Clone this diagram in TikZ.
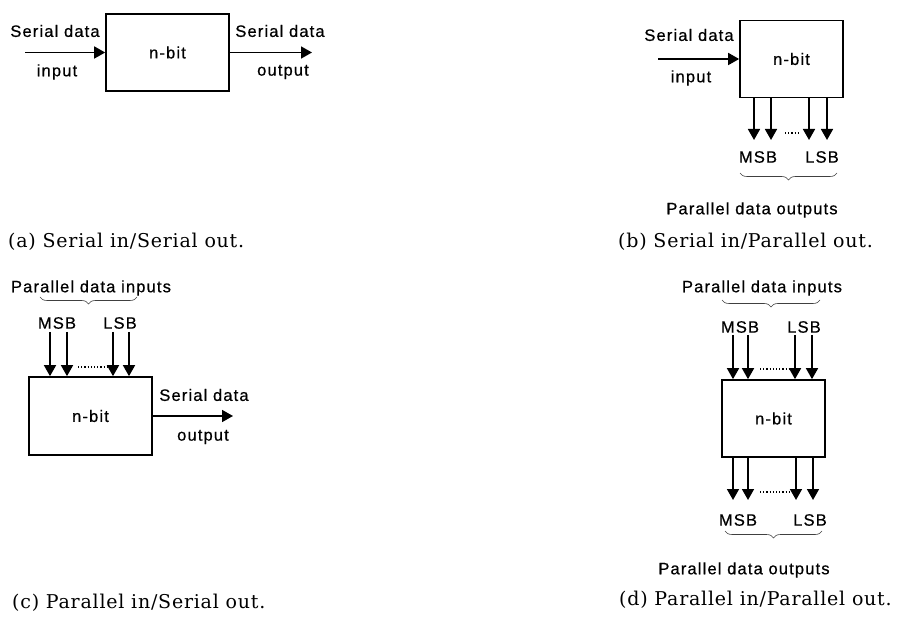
\documentclass[tikz,border=0pt]{standalone}
\usepackage{fontspec}
\setmainfont{DejaVu Serif}
\newfontfamily\labfont[LetterSpace=7,FakeBold=0.6]{Liberation Sans}
\newfontfamily\capfont[LetterSpace=4]{DejaVu Serif}
\usetikzlibrary{arrows.meta,decorations.pathreplacing}
\begin{document}
\begin{tikzpicture}[x=1pt,y=-1pt,
  lab/.style={font=\labfont\fontsize{16.5}{18}\selectfont, inner sep=0pt},
  box/.style={draw,line width=1.7pt,inner sep=0pt,font=\labfont\fontsize{16.5}{18}\selectfont},
  arr/.style={line width=1.7pt,-{Triangle[length=11pt,width=12pt]}},
  brc/.style={decorate,decoration={brace,amplitude=7pt},line width=0.6pt,draw=black!75},
  dotln/.style={dotted,line width=1.2pt},
  captxt/.style={font=\capfont\fontsize{19}{22}\selectfont,anchor=west,inner sep=0pt}
]
\useasboundingbox (0,0) rectangle (897,617);

% ---------- (a) ----------
\node[box,minimum width=123pt,minimum height=77pt] (A) at (167.5,52.5) {n-bit};
\coordinate (Ain) at (25,52.5);
\coordinate (Aout) at (312,52.5);
\draw[arr] (Ain) -- (A.west);
\draw[arr] (A.east) -- (Aout);
\node[lab] (Asd1) at (55,31) {Serial data};
\node[lab] (Ainp) at (57,72) {input};
\node[lab] (Asd2) at (280,31) {Serial data};
\node[lab] (Aoutp) at (283,72) {output};
\node[captxt] (Acap) at (8,242) {(a) Serial in/Serial out.};

% ---------- (b) ----------
\node[box,minimum width=103pt,minimum height=77pt] (B) at (791.5,59) {n-bit};
\coordinate (Bin) at (658,59);
\draw[arr] (Bin) -- (B.west);
\node[lab] (Bsd) at (689,35) {Serial data};
\node[lab] (Binp) at (691,78) {input};
\coordinate (b1) at (754,140);
\coordinate (b2) at (771,140);
\coordinate (b3) at (809,140);
\coordinate (b4) at (827,140);
\foreach \c in {b1,b2,b3,b4} \draw[arr] (B.south -| \c) -- (\c);
\coordinate (bd1) at (785,133);
\coordinate (bd2) at (798,133);
\draw[dotln] (bd1) -- (bd2);
\node[lab] (Bmsb) at (758,157) {MSB};
\node[lab] (Blsb) at (822,157) {LSB};
\coordinate (bbr1) at (837,173);
\coordinate (bbr2) at (740,173);
\draw[brc] (bbr1) -- (bbr2);
\node[lab] (Bpdo) at (752,210) {Parallel data outputs};
\node[captxt] (Bcap) at (618,242) {(b) Serial in/Parallel out.};

% ---------- (c) ----------
\node[box,minimum width=123pt,minimum height=78pt] (C) at (90.5,416) {n-bit};
\node[lab] (Cpdi) at (91,288) {Parallel data inputs};
\coordinate (cbr1) at (137,297);
\coordinate (cbr2) at (40,297);
\draw[brc] (cbr1) -- (cbr2);
\node[lab] (Cmsb) at (57,323) {MSB};
\node[lab] (Clsb) at (120,323) {LSB};
\coordinate (c1) at (50,332);
\coordinate (c2) at (67,332);
\coordinate (c3) at (113,332);
\coordinate (c4) at (129,332);
\foreach \c in {c1,c2,c3,c4} \draw[arr] (\c) -- (C.north -| \c);
\coordinate (cd1) at (78,367);
\coordinate (cd2) at (108,367);
\draw[dotln] (cd1) -- (cd2);
\coordinate (Cout) at (233,416);
\draw[arr] (C.east) -- (Cout);
\node[lab] (Csd) at (204,395) {Serial data};
\node[lab] (Coutp) at (203,437) {output};
\node[captxt] (Ccap) at (12,603) {(c) Parallel in/Serial out.};

% ---------- (d) ----------
\node[box,minimum width=103pt,minimum height=77pt] (D) at (773.5,418.5) {n-bit};
\node[lab] (Dpdi) at (762,288) {Parallel data inputs};
\coordinate (dbr1) at (820,300);
\coordinate (dbr2) at (722,300);
\draw[brc] (dbr1) -- (dbr2);
\node[lab] (Dmsb) at (740,327) {MSB};
\node[lab] (Dlsb) at (804,327) {LSB};
\coordinate (d1) at (733,335);
\coordinate (d2) at (748,335);
\coordinate (d3) at (795,335);
\coordinate (d4) at (812,335);
\foreach \c in {d1,d2,d3,d4} \draw[arr] (\c) -- (D.north -| \c);
\coordinate (dd1) at (760,369);
\coordinate (dd2) at (790,369);
\draw[dotln] (dd1) -- (dd2);
\coordinate (e1) at (733,500);
\coordinate (e2) at (748,500);
\coordinate (e3) at (796,500);
\coordinate (e4) at (813,500);
\foreach \c in {e1,e2,e3,e4} \draw[arr] (D.south -| \c) -- (\c);
\coordinate (ed1) at (760,492);
\coordinate (ed2) at (793,492);
\draw[dotln] (ed1) -- (ed2);
\node[lab] (Emsb) at (738,520) {MSB};
\node[lab] (Elsb) at (810,520) {LSB};
\coordinate (ebr1) at (822,531);
\coordinate (ebr2) at (725,531);
\draw[brc] (ebr1) -- (ebr2);
\node[lab] (Dpdo) at (744,570) {Parallel data outputs};
\node[captxt] (Dcap) at (619,600) {(d) Parallel in/Parallel out.};
\end{tikzpicture}
\end{document}
